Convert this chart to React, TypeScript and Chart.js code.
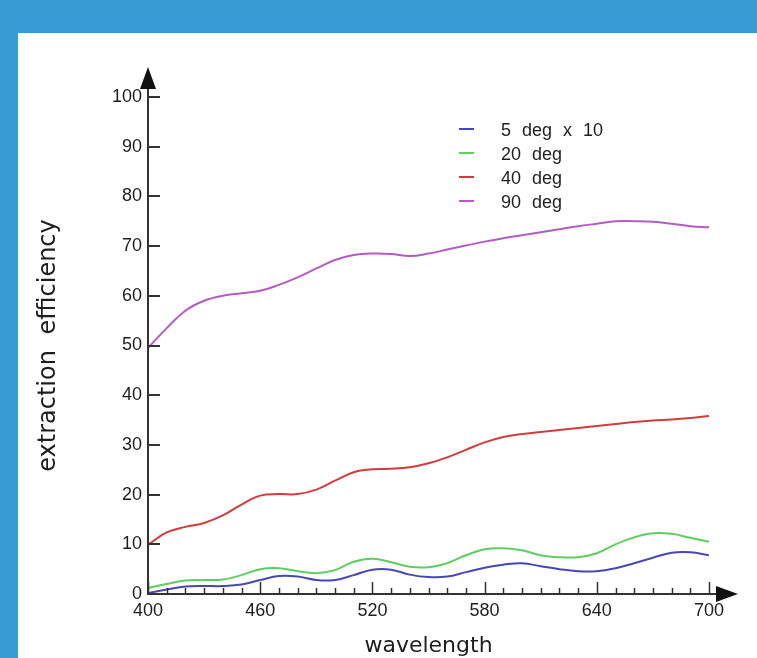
import React, { useEffect, useRef } from "react";
import { Chart, registerables } from "chart.js";

Chart.register(...registerables);

// ---- data ----
const wavelengths = [400, 410, 420, 430, 440, 450, 460, 470, 480, 490, 500, 510, 520, 530, 540, 550, 560, 570, 580, 590, 600, 610, 620, 630, 640, 650, 660, 670, 680, 690, 700];
const deg5x10 = [0.2, 0.9, 1.5, 1.6, 1.6, 1.9, 2.8, 3.6, 3.5, 2.8, 2.8, 3.8, 4.9, 4.9, 3.9, 3.4, 3.5, 4.4, 5.3, 5.9, 6.2, 5.6, 5.0, 4.6, 4.6, 5.2, 6.2, 7.3, 8.3, 8.4, 7.8];
const deg20 = [1.2, 2.0, 2.7, 2.8, 2.9, 3.8, 5.0, 5.2, 4.6, 4.2, 4.8, 6.5, 7.1, 6.4, 5.5, 5.4, 6.2, 7.8, 9.0, 9.2, 8.8, 7.8, 7.4, 7.4, 8.2, 10.0, 11.4, 12.2, 12.1, 11.3, 10.5];
const deg40 = [9.9, 12.4, 13.5, 14.3, 15.8, 18.0, 19.8, 20.1, 20.1, 21.0, 22.8, 24.5, 25.1, 25.2, 25.5, 26.3, 27.5, 29.0, 30.5, 31.6, 32.2, 32.6, 33.0, 33.4, 33.8, 34.2, 34.6, 34.9, 35.1, 35.4, 35.8];
const deg90 = [49.5, 53.5, 57.0, 59.0, 60.0, 60.5, 61.0, 62.2, 63.7, 65.5, 67.2, 68.2, 68.5, 68.4, 68.0, 68.5, 69.3, 70.1, 70.9, 71.6, 72.2, 72.8, 73.4, 74.0, 74.5, 75.0, 75.0, 74.9, 74.5, 74.0, 73.8];
const seriesLabels = ["5 deg x 10", "20 deg", "40 deg", "90 deg"];
const seriesColors = ["#4848b4", "#5fcd5f", "#d23c3c", "#b45cc4"];
const xMin = 400;
const xMax = 700;
const xMajorStep = 60;
const xMinorStep = 10;
const yMin = 0;
const yMax = 100;
const yStep = 10;
const xTitle = "wavelength";
const yTitle = "extraction efficiency";

const AXIS_COLOR = "#333333";
const TEXT_COLOR = "#1e1e1e";

const framePlugin = {
  id: "frame",
  beforeDraw(chart: any) {
    const ctx = chart.ctx;
    ctx.save();
    ctx.fillStyle = "#389bd4";
    ctx.fillRect(0, 0, chart.width, chart.height);
    ctx.fillStyle = "#ffffff";
    ctx.fillRect(18, 33, chart.width - 18, chart.height - 33);
    ctx.restore();
    (ctx as any).wordSpacing = "8px";
  },
  afterDraw(chart: any) {
    const { ctx, chartArea, scales } = chart;
    const xs = scales.x;
    const ys = scales.y;
    const left = chartArea.left;
    const bottom = chartArea.bottom;
    const top = chartArea.top;
    const right = chartArea.right;
    ctx.save();
    ctx.strokeStyle = AXIS_COLOR;
    ctx.fillStyle = "#111111";
    ctx.lineWidth = 2;
    // y axis line + arrow
    ctx.beginPath();
    ctx.moveTo(left, bottom + 1);
    ctx.lineTo(left, top - 9);
    ctx.stroke();
    ctx.beginPath();
    ctx.moveTo(left, top - 30);
    ctx.lineTo(left - 8, top - 8);
    ctx.lineTo(left + 8, top - 8);
    ctx.closePath();
    ctx.fill();
    // x axis line + arrow
    ctx.beginPath();
    ctx.moveTo(left - 1, bottom);
    ctx.lineTo(right + 8, bottom);
    ctx.stroke();
    ctx.beginPath();
    ctx.moveTo(right + 29, bottom);
    ctx.lineTo(right + 7, bottom - 8);
    ctx.lineTo(right + 7, bottom + 8);
    ctx.closePath();
    ctx.fill();
    // y ticks
    ctx.lineWidth = 2;
    ys.ticks.forEach((t: any) => {
      const py = Math.round(ys.getPixelForValue(t.value));
      ctx.beginPath();
      ctx.moveTo(left, py);
      ctx.lineTo(left + 12, py);
      ctx.stroke();
    });
    // x ticks (major + minor)
    ctx.lineWidth = 1.5;
    for (let v = xs.min; v <= xs.max + 0.001; v += xMinorStep) {
      const px = Math.round(xs.getPixelForValue(v)) + 0.5;
      const major = Math.abs((v - xs.min) % xMajorStep) < 0.001;
      ctx.beginPath();
      ctx.moveTo(px, bottom);
      ctx.lineTo(px, bottom - (major ? 12 : 6));
      ctx.stroke();
    }
    // legend
    (ctx as any).wordSpacing = "6px";
    ctx.font = "18px 'Liberation Sans', Arial, sans-serif";
    ctx.textBaseline = "middle";
    ctx.textAlign = "left";
    chart.data.datasets.forEach((ds: any, i: number) => {
      const ly = 129 + i * 24;
      ctx.strokeStyle = ds.borderColor;
      ctx.lineWidth = 2;
      ctx.beginPath();
      ctx.moveTo(459, ly);
      ctx.lineTo(474, ly);
      ctx.stroke();
      ctx.fillStyle = TEXT_COLOR;
      ctx.fillText(ds.label, 501, ly + 2);
    });
    ctx.restore();
  },
};

export default function App() {
  const canvasRef = useRef<HTMLCanvasElement | null>(null);

  useEffect(() => {
    const canvas = canvasRef.current;
    if (!canvas) return;
    const series = [deg5x10, deg20, deg40, deg90];
    const chart = new Chart(canvas, {
      type: "line",
      data: {
        datasets: series.map((vals, i) => ({
          label: seriesLabels[i],
          data: wavelengths.map((w, j) => ({ x: w, y: vals[j] })),
          borderColor: seriesColors[i],
          backgroundColor: seriesColors[i],
          borderWidth: 2,
          pointRadius: 0,
          tension: 0.4,
          fill: false,
        })),
      },
      options: {
        animation: false,
        responsive: false,
        devicePixelRatio: 1,
        layout: { padding: { left: 0, top: 97, right: 48, bottom: 0 } },
        plugins: {
          legend: { display: false },
          tooltip: { enabled: false },
          title: { display: false },
        },
        scales: {
          x: {
            type: "linear",
            min: xMin,
            max: xMax,
            grid: { display: false, drawTicks: false },
            border: { display: false },
            ticks: {
              stepSize: xMajorStep,
              padding: 6,
              maxRotation: 0,
              autoSkip: false,
              color: TEXT_COLOR,
              font: { family: "'Liberation Sans', Arial, sans-serif", size: 18 },
            },
            title: {
              display: true,
              text: xTitle,
              color: TEXT_COLOR,
              font: { family: "'DejaVu Sans', sans-serif", size: 22, lineHeight: 1 },
              padding: { top: 0, bottom: 1 },
            },
            afterFit: (scale: any) => {
              scale.height = 64;
            },
          },
          y: {
            type: "linear",
            min: yMin,
            max: yMax,
            grid: { display: false, drawTicks: false },
            border: { display: false },
            ticks: {
              stepSize: yStep,
              padding: 6,
              color: TEXT_COLOR,
              font: { family: "'Liberation Sans', Arial, sans-serif", size: 18 },
            },
            title: {
              display: true,
              text: yTitle,
              color: TEXT_COLOR,
              font: { family: "'DejaVu Sans', sans-serif", size: 24, lineHeight: 1.2 },
              padding: { top: 34, bottom: 0 },
            },
            afterFit: (scale: any) => {
              scale.width = 148;
            },
          },
        },
      },
      plugins: [framePlugin],
    });
    return () => chart.destroy();
  }, []);

  return (
    <div style={{ position: "fixed", left: 0, top: 0, width: 757, height: 658 }}>
      <canvas ref={canvasRef} width={757} height={658} style={{ width: 757, height: 658, display: "block" }} />
    </div>
  );
}
